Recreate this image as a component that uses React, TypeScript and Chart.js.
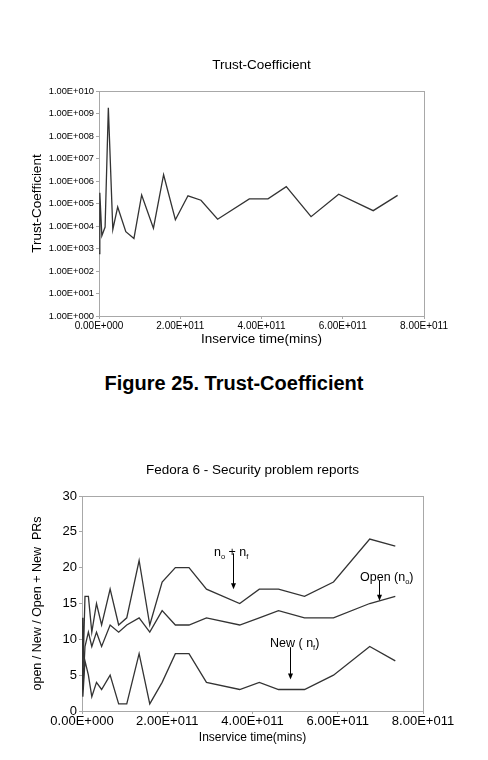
import React, { useEffect, useRef } from 'react';
import { Chart, registerables } from 'chart.js';

Chart.register(...registerables);

// In-service time of each release sample (minutes)
const INSERVICE_MINS = [
  0, 2e9, 7e9, 15e9, 23e9, 34e9, 46e9, 66e9, 86e9, 105e9, 134e9, 159e9,
  188e9, 219e9, 251e9, 292e9, 370e9, 416e9, 461e9, 522e9, 590e9, 675e9, 735e9,
];

// Trust-coefficient at each sample
const TRUST_COEFFICIENT = [
  6e2, 3e5, 3.7e3, 9e3, 1.8e9, 7e3, 7e4, 5.6e3, 2.8e3, 2.4e5, 8e3, 1.9e6,
  1.9e4, 2.2e5, 1.4e5, 2.0e4, 1.6e5, 1.6e5, 5.6e5, 2.6e4, 2.6e5, 4.8e4, 2.3e5,
];

// Fedora 6 security problem reports
const OPEN_PRS = [6, 3, 9, 11, 9, 11, 9, 12, 11, 12, 13, 11, 14, 12, 12, 13, 12, 13, 14, 13, 13, 15, 16];
const NEW_PRS = [7, 2, 7, 5, 2, 4, 3, 5, 1, 1, 8, 1, 4, 8, 8, 4, 3, 4, 3, 3, 5, 9, 7];
const OPEN_PLUS_NEW = [13, 5, 16, 16, 11, 15, 12, 17, 12, 13, 21, 12, 18, 20, 20, 17, 15, 17, 17, 16, 18, 24, 23];

const X_TICKS = [0, 2e11, 4e11, 6e11, 8e11];
const TRUST_TICKS = [1, 1e1, 1e2, 1e3, 1e4, 1e5, 1e6, 1e7, 1e8, 1e9, 1e10];
const PR_TICKS = [0, 5, 10, 15, 20, 25, 30];

// Labelled arrows on the problem-report chart (data units)
const PR_NOTES = [
  { parts: [['n', false], ['o', true], [' + ', false], ['n', false], ['f', true]], x: 3.5e11, y: 21.6, arrowX: 3.55e11, from: 22.0, to: 17.0 },
  { parts: [['Open (', false], ['n', false], ['o', true], [')', false]], x: 7.15e11, y: 18.2, arrowX: 6.97e11, from: 18.2, to: 15.4 },
  { parts: [['New ( ', false], ['n', false], ['f', true], [')', false]], x: 4.99e11, y: 9.0, arrowX: 4.88e11, from: 8.9, to: 4.4 },
];

const FONT = "'Liberation Sans', Arial, Helvetica, sans-serif";
const LINE = '#333333';
const FRAME = '#a8a8a8';

function sci(v: number): string {
  if (v === 0) return '0.00E+000';
  const e = Math.floor(Math.log10(Math.abs(v)) + 1e-9);
  const m = v / Math.pow(10, e);
  return m.toFixed(2) + 'E' + (e < 0 ? '-' : '+') + String(Math.abs(e)).padStart(3, '0');
}

const points = (ys: number[]) => INSERVICE_MINS.map((x, i) => ({ x, y: ys[i] }));

const framePlugin = {
  id: 'frame',
  beforeDatasetsDraw(chart: any) {
    const { ctx, chartArea: a } = chart;
    ctx.save();
    ctx.strokeStyle = FRAME;
    ctx.lineWidth = 1;
    ctx.strokeRect(Math.round(a.left) + 0.5, Math.round(a.top) + 0.5, Math.round(a.right - a.left), Math.round(a.bottom - a.top));
    ctx.restore();
  },
};

const notesPlugin = {
  id: 'prNotes',
  afterDatasetsDraw(chart: any) {
    const { ctx, scales } = chart;
    const xs = scales.x;
    const ys = scales.y;
    ctx.save();
    ctx.fillStyle = '#000';
    ctx.strokeStyle = '#000';
    ctx.textBaseline = 'alphabetic';
    ctx.textAlign = 'left';
    const mainFont = `12.5px ${FONT}`;
    const subFont = `7.5px ${FONT}`;
    for (const note of PR_NOTES) {
      let total = 0;
      for (const [t, sub] of note.parts as [string, boolean][]) {
        ctx.font = sub ? subFont : mainFont;
        total += ctx.measureText(t).width;
      }
      let cx = xs.getPixelForValue(note.x) - total / 2;
      const by = ys.getPixelForValue(note.y);
      for (const [t, sub] of note.parts as [string, boolean][]) {
        ctx.font = sub ? subFont : mainFont;
        ctx.fillText(t, cx, sub ? by + 3 : by);
        cx += ctx.measureText(t).width;
      }
      const ax = Math.round(xs.getPixelForValue(note.arrowX)) + 0.5;
      const y0 = ys.getPixelForValue(note.from);
      const y1 = ys.getPixelForValue(note.to);
      ctx.lineWidth = 1;
      ctx.beginPath();
      ctx.moveTo(ax, y0);
      ctx.lineTo(ax, y1 - 4);
      ctx.stroke();
      ctx.beginPath();
      ctx.moveTo(ax, y1);
      ctx.lineTo(ax - 2.5, y1 - 6);
      ctx.lineTo(ax + 2.5, y1 - 6);
      ctx.closePath();
      ctx.fill();
    }
    ctx.restore();
  },
};

const lineDataset = (ys: number[], label: string) => ({
  label,
  data: points(ys),
  borderColor: LINE,
  borderWidth: 1.3,
  pointRadius: 0,
  tension: 0,
  fill: false,
});

const tickGrid = {
  display: true,
  drawOnChartArea: false,
  drawTicks: true,
  tickLength: 3,
  color: FRAME,
};

function TrustChart() {
  const ref = useRef<HTMLCanvasElement>(null);
  useEffect(() => {
    const chart = new Chart(ref.current as HTMLCanvasElement, {
      type: 'line',
      data: { datasets: [lineDataset(TRUST_COEFFICIENT, 'Trust-Coefficient')] },
      plugins: [framePlugin],
      options: {
        animation: false,
        responsive: false,
        devicePixelRatio: 1,
        layout: { padding: { left: 0, right: 64, top: 0, bottom: 0 } },
        plugins: {
          legend: { display: false },
          tooltip: { enabled: false },
          title: {
            display: true,
            text: 'Trust-Coefficient',
            fullSize: false,
            color: '#000',
            font: { family: FONT, size: 13.5, weight: 'normal' },
            padding: { top: 17.4, bottom: 17.4 },
          },
        },
        scales: {
          x: {
            type: 'linear',
            min: 0,
            max: 8e11,
            afterBuildTicks: (s: any) => { s.ticks = X_TICKS.map((value) => ({ value })); },
            afterFit: (s: any) => { s.height = 44; },
            ticks: { callback: (v: any) => sci(Number(v)), color: '#000', font: { family: FONT, size: 10 }, padding: 1, maxRotation: 0, autoSkip: false },
            grid: tickGrid,
            border: { display: false },
            title: { display: true, text: 'Inservice time(mins)', color: '#000', font: { family: FONT, size: 13.5 }, padding: { top: 0, bottom: 12.9 } },
          },
          y: {
            type: 'logarithmic',
            min: 1,
            max: 1e10,
            afterBuildTicks: (s: any) => { s.ticks = TRUST_TICKS.map((value) => ({ value })); },
            afterFit: (s: any) => { s.width = 99; },
            ticks: { callback: (v: any) => sci(Number(v)), color: '#000', font: { family: FONT, size: 9.3 }, padding: 2, autoSkip: false },
            grid: tickGrid,
            border: { display: false },
            title: { display: true, text: 'Trust-Coefficient', color: '#000', font: { family: FONT, size: 13.5 }, padding: { top: 29.4, bottom: 0 } },
          },
        },
      } as any,
    });
    return () => chart.destroy();
  }, []);
  return (
    <canvas ref={ref} width={488} height={320} style={{ position: 'absolute', left: 0, top: 40, width: 488, height: 320 }} />
  );
}

function ReportsChart() {
  const ref = useRef<HTMLCanvasElement>(null);
  useEffect(() => {
    const chart = new Chart(ref.current as HTMLCanvasElement, {
      type: 'line',
      data: {
        datasets: [
          lineDataset(OPEN_PLUS_NEW, 'Open + New'),
          lineDataset(OPEN_PRS, 'Open'),
          lineDataset(NEW_PRS, 'New'),
        ],
      },
      plugins: [framePlugin, notesPlugin],
      options: {
        animation: false,
        responsive: false,
        devicePixelRatio: 1,
        layout: { padding: { left: 0, right: 65, top: 0, bottom: 0 } },
        plugins: {
          legend: { display: false },
          tooltip: { enabled: false },
          title: {
            display: true,
            text: 'Fedora 6 - Security problem reports',
            fullSize: false,
            color: '#000',
            font: { family: FONT, size: 13.5, weight: 'normal' },
            padding: { top: 21.9, bottom: 17.9 },
          },
        },
        scales: {
          x: {
            type: 'linear',
            min: 0,
            max: 8e11,
            afterBuildTicks: (s: any) => { s.ticks = X_TICKS.map((value) => ({ value })); },
            afterFit: (s: any) => { s.height = 49; },
            ticks: { callback: (v: any) => sci(Number(v)), color: '#000', font: { family: FONT, size: 13 }, padding: 0, maxRotation: 0, autoSkip: false },
            grid: tickGrid,
            border: { display: false },
            title: { display: true, text: 'Inservice time(mins)', color: '#000', font: { family: FONT, size: 12 }, padding: { top: 0, bottom: 15.3 } },
          },
          y: {
            type: 'linear',
            min: 0,
            max: 30,
            afterBuildTicks: (s: any) => { s.ticks = PR_TICKS.map((value) => ({ value })); },
            afterFit: (s: any) => { s.width = 82; },
            ticks: { color: '#000', font: { family: FONT, size: 13 }, padding: 2, autoSkip: false },
            grid: tickGrid,
            border: { display: false },
            title: { display: true, text: 'open / New / Open + New  PRs', color: '#000', font: { family: FONT, size: 12.5 }, padding: { top: 30.5, bottom: 0 } },
          },
        },
      } as any,
    });
    return () => chart.destroy();
  }, []);
  return (
    <canvas ref={ref} width={488} height={320} style={{ position: 'absolute', left: 0, top: 440, width: 488, height: 320 }} />
  );
}

export default function App() {
  return (
    <div style={{ position: 'absolute', left: 0, top: 0, width: 488, height: 760, background: '#fff', overflow: 'hidden' }}>
      <TrustChart />
      <div
        style={{
          position: 'absolute',
          left: 0,
          top: 371,
          width: 468,
          textAlign: 'center',
          fontFamily: FONT,
          fontWeight: 'bold',
          fontSize: 20,
          lineHeight: '24px',
          color: '#000',
        }}
      >
        Figure 25. Trust-Coefficient
      </div>
      <ReportsChart />
    </div>
  );
}
